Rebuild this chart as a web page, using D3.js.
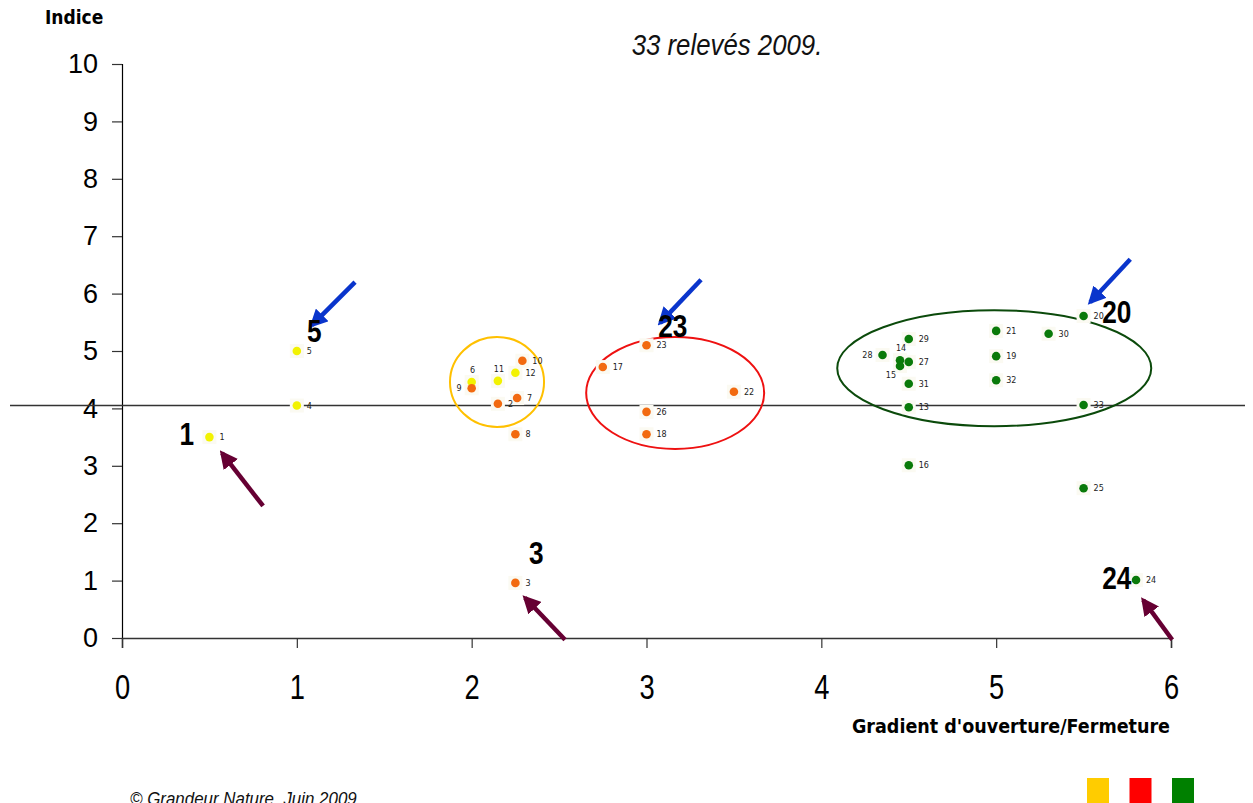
<!DOCTYPE html>
<html>
<head>
<meta charset="utf-8">
<script src="https://cdn.jsdelivr.net/npm/d3@7"></script>
<style>
  html, body { margin: 0; padding: 0; background: #fff; }
  svg { display: block; }
</style>
</head>
<body>
<svg id="chart" width="1253" height="803"></svg>
<script>
// ---------------- DATA ----------------
const pointIds   = [1, 2, 3, 4, 5, 6, 7, 8, 9, 10, 11, 12, 13, 14, 15, 16, 17, 18, 19, 20, 21, 22, 23, 24, 25, 26, 27, 28, 29, 30, 31, 32, 33];
const gradientX  = [0.5, 2.15, 2.25, 1.0, 1.0, 2.0, 2.26, 2.25, 2.0, 2.29, 2.15, 2.25, 4.5, 4.45, 4.45, 4.5, 2.75, 3.0, 5.0, 5.5, 5.0, 3.5, 3.0, 5.8, 5.5, 3.0, 4.5, 4.35, 4.5, 5.3, 4.5, 5.0, 5.5];
const indiceY    = [3.5, 4.08, 0.96, 4.05, 5.0, 4.46, 4.18, 3.55, 4.35, 4.83, 4.48, 4.62, 4.02, 4.84, 4.74, 3.01, 4.72, 3.55, 4.91, 5.61, 5.35, 4.29, 5.1, 1.01, 2.61, 3.94, 4.81, 4.93, 5.21, 5.3, 4.43, 4.49, 4.06];
const groupOf    = ["Y","O","O","Y","Y","Y","O","O","O","O","Y","Y","G","G","G","G","O","O","G","G","G","O","O","G","G","O","G","G","G","G","G","G","G"];
const labelSide  = {9: "left", 28: "left", 15: "leftBelow", 6: "above", 11: "above", 14: "above"};

const xTicks = [0, 1, 2, 3, 4, 5, 6];
const yTicks = [0, 1, 2, 3, 4, 5, 6, 7, 8, 9, 10];
const refLineValue = 4.05;

// highlighted relevés (big numbers) [text, x, y]
const callouts = [["1", 0.37, 3.36], ["5", 1.10, 5.16], ["23", 3.15, 5.24], ["20", 5.69, 5.49], ["3", 2.37, 1.29], ["24", 5.69, 0.85]];
// arrows [x1, y1, x2, y2, kind]
const arrows = [
  [1.333, 6.20, 1.087, 5.45, "blue"],
  [3.312, 6.24, 3.078, 5.49, "blue"],
  [5.767, 6.60, 5.538, 5.85, "blue"],
  [0.807, 2.30, 0.572, 3.22, "maroon"],
  [2.534, -0.03, 2.305, 0.70, "maroon"],
  [6.007, -0.03, 5.841, 0.66, "maroon"]
];
// group ellipses [cx, cy, rx, ry, group]
const ellipses = [[2.145, 4.46, 0.269, 0.784, "Y"], [3.164, 4.27, 0.509, 0.976, "R"], [4.989, 4.70, 0.898, 1.01, "G"]];
const legendGroups = ["Y", "R", "G"];

// ---------------- STYLES ----------------
const pointColor   = {Y: "#f2f200", O: "#f26a10", G: "#0a7a0a"};
const ellipseColor = {Y: "#ffc000", R: "#ee1111", G: "#0b4a0b"};
const legendColor  = {Y: "#ffcc00", R: "#ff0000", G: "#008000"};
const arrowColor   = {blue: "#0a35cc", maroon: "#660033"};
const narrow = "'Liberation Sans', Arial, sans-serif";
const blocky = "'DejaVu Sans Condensed', 'DejaVu Sans', sans-serif";

const svg = d3.select("#chart");
const x = d3.scaleLinear().domain([0, 6]).range([122, 1171]);
const y = d3.scaleLinear().domain([0, 10]).range([638, 64]);

// subtitle (narrow italic)
svg.append("text").attr("transform", "translate(727,55) scale(0.86,1)").attr("text-anchor", "middle")
  .attr("font-family", narrow)
  .attr("font-style", "italic").attr("font-size", 30).attr("fill", "#111")
  .text("33 relevés 2009.");

// axis titles
svg.append("text").attr("x", 45).attr("y", 24)
  .attr("font-family", blocky)
  .attr("font-weight", "bold").attr("font-size", 19).attr("fill", "#000")
  .text("Indice");
svg.append("text").attr("x", 1170).attr("y", 733).attr("text-anchor", "end")
  .attr("font-family", blocky)
  .attr("font-weight", "bold").attr("font-size", 19.5).attr("fill", "#000")
  .text("Gradient d'ouverture/Fermeture");

// y axis
const yAxis = d3.axisLeft(y).tickValues(yTicks).tickSize(10).tickPadding(14).tickFormat(d3.format("d"));
const gy = svg.append("g").attr("transform", `translate(${x(0)},0)`).call(yAxis);
gy.select(".domain").attr("stroke", "#000").attr("stroke-width", 1.2);
gy.selectAll(".tick line").attr("stroke", "#333").attr("stroke-width", 1.2);
gy.selectAll(".tick text").attr("font-family", "'Liberation Sans', Arial, sans-serif")
  .attr("font-size", 27).attr("fill", "#000");

// x axis
const xAxis = d3.axisBottom(x).tickValues(xTicks).tickSize(10).tickPadding(26).tickFormat(d3.format("d"));
const gx = svg.append("g").attr("transform", `translate(0,${y(0)})`).call(xAxis);
gx.select(".domain").attr("stroke", "#333").attr("stroke-width", 1.5);
gx.selectAll(".tick line").attr("stroke", "#333").attr("stroke-width", 1.2);
gx.selectAll(".tick text").attr("font-family", narrow)
  .attr("font-size", 35).attr("fill", "#000").attr("transform", "scale(0.78,1)");

// reference line
svg.append("line").attr("x1", 10).attr("x2", 1245)
  .attr("y1", y(refLineValue)).attr("y2", y(refLineValue))
  .attr("stroke", "#333").attr("stroke-width", 1.4);

// ellipses
svg.append("g").selectAll("ellipse").data(ellipses).join("ellipse")
  .attr("cx", d => x(d[0])).attr("cy", d => y(d[1]))
  .attr("rx", d => x(d[2]) - x(0)).attr("ry", d => y(0) - y(d[3]))
  .attr("fill", "none").attr("stroke", d => ellipseColor[d[4]]).attr("stroke-width", 2);

// points
const pts = pointIds.map((id, i) => ({id, gx: gradientX[i], iy: indiceY[i], g: groupOf[i]}));
const pg = svg.append("g");
pg.selectAll("rect.halo").data(pts).join("rect").attr("class", "halo")
  .attr("x", d => x(d.gx) - 7).attr("y", d => y(d.iy) - 7).attr("width", 14).attr("height", 14)
  .attr("fill", "#fbfaf2");
const starPath = d3.symbol().type(d3.symbolCircle).size(58);
pg.selectAll("path").data(pts).join("path")
  .attr("d", starPath)
  .attr("transform", d => `translate(${x(d.gx)},${y(d.iy)})`)
  .attr("fill", d => pointColor[d.g]);

// point labels
pg.selectAll("text").data(pts).join("text")
  .attr("x", d => {
    const s = labelSide[d.id];
    if (s === "left") return x(d.gx) - 10;
    if (s === "leftBelow") return x(d.gx) - 4;
    if (s === "above") return x(d.gx) + 1;
    return x(d.gx) + 10;
  })
  .attr("y", d => {
    const s = labelSide[d.id];
    if (s === "above") return y(d.iy) - 9;
    if (s === "leftBelow") return y(d.iy) + 12;
    return y(d.iy) + 3;
  })
  .attr("text-anchor", d => {
    const s = labelSide[d.id];
    if (s === "left" || s === "leftBelow") return "end";
    if (s === "above") return "middle";
    return "start";
  })
  .attr("font-family", "'DejaVu Sans', sans-serif").attr("font-size", 8).attr("fill", "#222")
  .text(d => d.id);

// arrows
const defs = svg.append("defs");
Object.entries(arrowColor).forEach(([k, c]) => {
  defs.append("marker").attr("id", "ah-" + k).attr("viewBox", "0 0 10 10")
    .attr("refX", 8).attr("refY", 5).attr("markerWidth", 4).attr("markerHeight", 4)
    .attr("markerUnits", "strokeWidth").attr("orient", "auto")
    .append("path").attr("d", "M0,0 L10,5 L0,10 z").attr("fill", c);
});
svg.append("g").selectAll("line").data(arrows).join("line")
  .attr("x1", d => x(d[0])).attr("y1", d => y(d[1]))
  .attr("x2", d => x(d[2])).attr("y2", d => y(d[3]))
  .attr("stroke", d => arrowColor[d[4]]).attr("stroke-width", 4.5)
  .attr("marker-end", d => `url(#ah-${d[4]})`);

// callout numbers (narrow bold)
svg.append("g").selectAll("text").data(callouts).join("text")
  .attr("transform", d => `translate(${x(d[1])},${y(d[2])}) scale(0.82,1)`)
  .attr("text-anchor", "middle")
  .attr("font-family", narrow)
  .attr("font-weight", "bold").attr("font-size", 32).attr("fill", "#000")
  .text(d => d[0]);

// footer
svg.append("text").attr("transform", "translate(130,805) scale(0.94,1)")
  .attr("font-family", narrow)
  .attr("font-style", "italic").attr("font-size", 18).attr("fill", "#111")
  .text("©  Grandeur Nature, Juin 2009");

// legend squares
svg.append("g").selectAll("rect").data(legendGroups).join("rect")
  .attr("x", (d, i) => 1087 + i * 42.5).attr("y", 778).attr("width", 22).attr("height", 26)
  .attr("fill", d => legendColor[d]);
</script>
</body>
</html>
